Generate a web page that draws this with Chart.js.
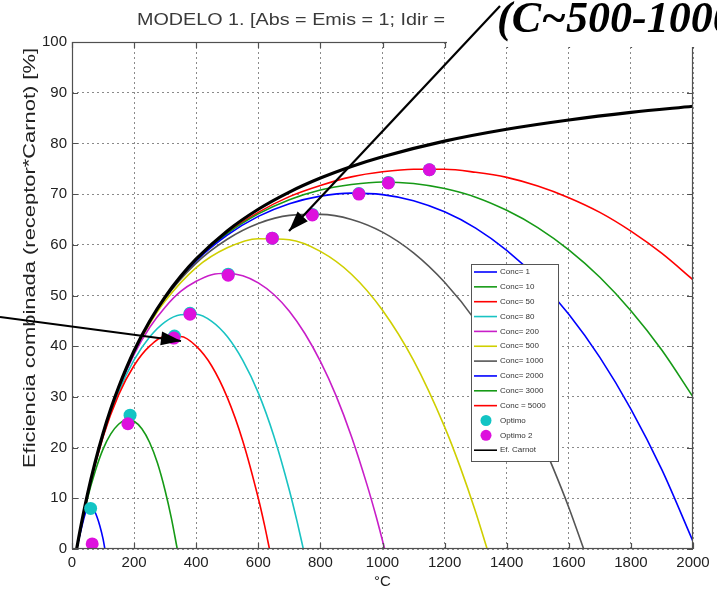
<!DOCTYPE html>
<html><head><meta charset="utf-8">
<script src="https://cdn.jsdelivr.net/npm/chart.js@4/dist/chart.umd.min.js"></script>
<style>html,body{margin:0;padding:0;background:#fff;overflow:hidden}</style>
</head><body>
<canvas id="c" width="717" height="590"></canvas>
<script>
// ---------- DATA ----------
const xTicks = [0,200,400,600,800,1000,1200,1400,1600,1800,2000];
const yTicks = [0,10,20,30,40,50,60,70,80,90,100];
const concLabels = ['Conc= 1','Conc= 10','Conc= 50','Conc= 80','Conc= 200','Conc= 500','Conc= 1000','Conc= 2000','Conc= 3000','Conc = 5000'];

const carnotT = [15,25,50,75,100,125,150,200,250,300,350,400,500,600,700,800,900,1000,1200,1400,1600,1800,2000];
const carnotE = [0,3.36,10.84,17.24,22.79,27.64,31.91,39.11,44.93,49.74,53.77,57.21,62.74,67.01,70.40,73.16,75.45,77.38,80.45,82.79,84.62,86.11,87.33];

const c1T = [15,30,40,50,60,70,80,90,100,106];
const c1E = [0,4.0,6.4,8.2,8.5,7.8,6.4,4.5,2.0,0];

const c10T = [15,50,75,100,125,150,175,200,225,250,275,300,320,339];
const c10E = [0,10.0,15.4,19.7,22.7,24.6,25.5,25.2,23.7,21.0,17.0,11.5,6.1,0];

const c50T = [15,50,100,150,200,250,300,350,400,450,500,550,600,620,636];
const c50E = [0,10.7,22.1,30.4,36.2,40.0,41.9,41.9,40.0,36.1,29.9,21.3,10.0,4.7,0];

const c80T = [15,50,100,150,200,250,300,350,400,450,500,550,600,650,700,725,745];
const c80E = [0,10.7,22.4,31.0,37.3,41.8,44.8,46.2,46.3,44.9,41.9,37.2,30.8,22.3,11.6,5.4,0];

const c200T = [15,50,100,150,200,250,300,350,400,450,500,550,600,650,700,750,800,850,900,950,980,1007];
const c200E = [0,10.8,22.6,31.5,38.4,43.7,47.7,50.8,52.8,54.1,54.4,53.9,52.5,50.2,46.9,42.5,37.0,30.3,22.2,12.7,6.3,0];

const c500T = [15,50,100,150,200,250,300,400,500,600,700,800,900,1000,1100,1200,1250,1300,1337];
const c500E = [0,10.8,22.7,31.8,38.8,44.4,48.9,55.5,59.4,61.2,61.0,58.7,54.2,47.1,37.2,24.1,16.2,7.3,0];

const c1000T = [15,50,100,150,200,300,400,500,600,700,800,900,1000,1100,1200,1300,1400,1500,1550,1600,1648];
const c1000E = [0,10.8,22.8,31.8,39.0,49.4,56.4,61.1,64.2,65.8,66.0,65.0,62.5,58.4,52.6,45.0,35.2,23.0,15.9,8.2,0];

const cHighT = [15,50,100,150,200,300,400,500,600,700,800,900,1000,1100,1200,1300,1400,1500,1600,1700,1800,1900,2000];
const c2000E = [0,10.8,22.8,31.9,39.0,49.5,56.8,61.9,65.6,68.1,69.6,70.2,69.9,68.7,66.5,63.3,58.9,53.3,46.3,37.8,27.6,15.6,1.5];
const c3000E = [0,10.8,22.8,31.9,39.1,49.6,56.9,62.2,66.1,68.9,70.8,71.9,72.4,72.1,71.1,69.4,66.8,63.4,59.0,53.6,47.0,39.2,30.0];
const c5000E = [0,10.8,22.8,31.9,39.1,49.7,57.0,62.4,66.4,69.5,71.7,73.4,74.4,74.9,74.9,74.3,73.3,71.6,69.3,66.4,62.7,58.3,53.1];

const optT  = [60,187,330,380,503,645,774,924,1019,1151];
const optE  = [8.0,26.4,42.0,46.5,54.2,61.3,66.0,70.1,72.3,74.8];
const opt2T = [65,180,328,380,503,645,774,924,1019,1151];
const opt2E = [1.0,24.7,41.6,46.3,54.0,61.3,65.9,70.0,72.2,74.8];

// ---------- STYLES ----------
const curveColors = ['#0000ff','#169a16','#ff0000','#19c3c3','#c81ec8','#cfcf00','#555555','#0000ff','#169a16','#ff0000'];
const cyanDot = '#12c4c4', magDot = '#dd10dd';

const pts = (xs, ys) => xs.map((x,i)=>({x:x, y:ys[i]}));
const curveSets = [[c1T,c1E],[c10T,c10E],[c50T,c50E],[c80T,c80E],[c200T,c200E],[c500T,c500E],[c1000T,c1000E],[cHighT,c2000E],[cHighT,c3000E],[cHighT,c5000E]];

const datasets = [
  {label:'Optimo 2', data:pts(opt2T,opt2E), showLine:false, pointRadius:6.5, pointBackgroundColor:magDot, pointBorderColor:magDot, borderWidth:0},
  {label:'Optimo', data:pts(optT,optE), showLine:false, pointRadius:6.5, pointBackgroundColor:cyanDot, pointBorderColor:cyanDot, borderWidth:0},
  {label:'Ef. Carnot', data:pts(carnotT,carnotE), borderColor:'#000', borderWidth:3.2, pointRadius:0, cubicInterpolationMode:'monotone', fill:false},
];
curveSets.forEach((s,i)=>datasets.push({label:concLabels[i], data:pts(s[0],s[1]), borderColor:curveColors[i], borderWidth:1.6, pointRadius:0, cubicInterpolationMode:'monotone', fill:false}));

const L=72, R=693, T=42, B=549;

function arrow(ctx,x1,y1,x2,y2,hl,hw){
  ctx.beginPath(); ctx.moveTo(x1,y1); ctx.lineTo(x2,y2); ctx.stroke();
  const a=Math.atan2(y2-y1,x2-x1);
  ctx.beginPath();
  ctx.moveTo(x2,y2);
  ctx.lineTo(x2-hl*Math.cos(a)+hw*Math.sin(a), y2-hl*Math.sin(a)-hw*Math.cos(a));
  ctx.lineTo(x2-hl*Math.cos(a)-hw*Math.sin(a), y2-hl*Math.sin(a)+hw*Math.cos(a));
  ctx.closePath(); ctx.fill();
}

const decor = {
  id:'decor',
  afterDraw(chart){
    const ctx=chart.ctx, ca=chart.chartArea, xs=chart.scales.x, ys=chart.scales.y;
    ctx.save();
    // frame
    ctx.strokeStyle='#505050'; ctx.lineWidth=1.2;
    ctx.strokeRect(ca.left+0.5, ca.top+0.5, ca.right-ca.left-1, ca.bottom-ca.top-1);
    // inward ticks
    ctx.beginPath();
    xTicks.forEach(v=>{const p=Math.round(xs.getPixelForValue(v))+0.5; ctx.moveTo(p,ca.bottom); ctx.lineTo(p,ca.bottom-6); ctx.moveTo(p,ca.top); ctx.lineTo(p,ca.top+6);});
    yTicks.forEach(v=>{const p=Math.round(ys.getPixelForValue(v))+0.5; ctx.moveTo(ca.left,p); ctx.lineTo(ca.left+6,p); ctx.moveTo(ca.right,p); ctx.lineTo(ca.right-6,p);});
    ctx.stroke();

    // legend
    const lx=471, ly=264, lw=87, lh=197;
    ctx.fillStyle='#fff'; ctx.fillRect(lx,ly,lw,lh);
    ctx.strokeStyle='#555'; ctx.lineWidth=1; ctx.strokeRect(lx+0.5,ly+0.5,lw,lh);
    const items = concLabels.map((l,i)=>({label:l, kind:'line', color:curveColors[i]}))
      .concat([{label:'Optimo',kind:'dot',color:cyanDot},{label:'Optimo 2',kind:'dot',color:magDot},{label:'Ef. Carnot',kind:'line',color:'#000'}]);
    ctx.font='8px Arial, "Liberation Sans", sans-serif'; ctx.textBaseline='middle'; ctx.textAlign='left';
    items.forEach((it,i)=>{
      const yy = ly+8 + i*14.85;
      if(it.kind==='line'){ ctx.strokeStyle=it.color; ctx.lineWidth=1.6; ctx.beginPath(); ctx.moveTo(lx+3,yy); ctx.lineTo(lx+26,yy); ctx.stroke(); }
      else { ctx.fillStyle=it.color; ctx.beginPath(); ctx.arc(lx+15,yy,5.5,0,Math.PI*2); ctx.fill(); }
      ctx.fillStyle='#333'; ctx.fillText(it.label, lx+29, yy);
    });

    // y label
    ctx.save();
    ctx.translate(31, 258); ctx.rotate(-Math.PI/2);
    ctx.font='16px Arial, "Liberation Sans", sans-serif'; ctx.fillStyle='#222'; ctx.textAlign='center'; ctx.textBaseline='middle';
    const ylab='Eficiencia combinada (receptor*Carnot) [%]';
    const w=ctx.measureText(ylab).width; ctx.scale(420/w,1);
    ctx.fillText(ylab,0,0);
    ctx.restore();

    // x label
    ctx.font='15px Arial, "Liberation Sans", sans-serif'; ctx.fillStyle='#222'; ctx.textAlign='center'; ctx.textBaseline='middle';
    ctx.fillText('°C', (ca.left+ca.right)/2, 582);

    // title (visible part)
    ctx.save();
    ctx.font='16px Arial, "Liberation Sans", sans-serif'; ctx.fillStyle='#3a3a3a'; ctx.textAlign='left'; ctx.textBaseline='alphabetic';
    const tt='MODELO 1. [Abs = Emis = 1; Idir =';
    const tw=ctx.measureText(tt).width; ctx.translate(137,25); ctx.scale(308/tw,1);
    ctx.fillText(tt,0,0);
    ctx.restore();

    // covering white box of the annotation
    ctx.fillStyle='#fff'; ctx.fillRect(447,0,270,47);
    // annotation text
    ctx.font='italic bold 44px "Liberation Serif", "Times New Roman", serif'; ctx.fillStyle='#000'; ctx.textAlign='left'; ctx.textBaseline='alphabetic';
    ctx.fillText('(C~500-1000)', 497, 32);
    // arrows
    ctx.strokeStyle='#000'; ctx.fillStyle='#000'; ctx.lineWidth=2.2;
    arrow(ctx, 500, 6, 289, 231, 20, 7);
    arrow(ctx, 0, 317, 181, 341, 20, 7);
    ctx.restore();
  }
};

const tickFont = {size:15, family:'Arial, "Liberation Sans", sans-serif'};
new Chart(document.getElementById('c'), {
  type:'line',
  data:{datasets},
  options:{
    responsive:false, animation:false, devicePixelRatio:1,
    layout:{padding:{left:0, top:T, right:717-R, bottom:0}},
    plugins:{legend:{display:false}, title:{display:false}, tooltip:{enabled:false}},
    elements:{line:{tension:0}},
    scales:{
      x:{type:'linear', min:0, max:2000,
        afterBuildTicks:(s)=>{s.ticks=xTicks.map(v=>({value:v}));},
        afterFit:(s)=>{s.height=590-B;},
        ticks:{font:tickFont, color:'#222', padding:5, maxRotation:0, autoSkip:false, callback:(v)=>String(v)},
        grid:{color:'#8a8a8a', lineWidth:1, drawTicks:false},
        border:{display:false, dash:[2,3]}},
      y:{type:'linear', min:0, max:100,
        afterBuildTicks:(s)=>{s.ticks=yTicks.map(v=>({value:v}));},
        afterFit:(s)=>{s.width=L;},
        ticks:{font:tickFont, color:'#222', padding:5, autoSkip:false, callback:(v)=>String(v)},
        grid:{color:'#8a8a8a', lineWidth:1, drawTicks:false},
        border:{display:false, dash:[2,3]}}
    }
  },
  plugins:[decor]
});
</script>
</body></html>
